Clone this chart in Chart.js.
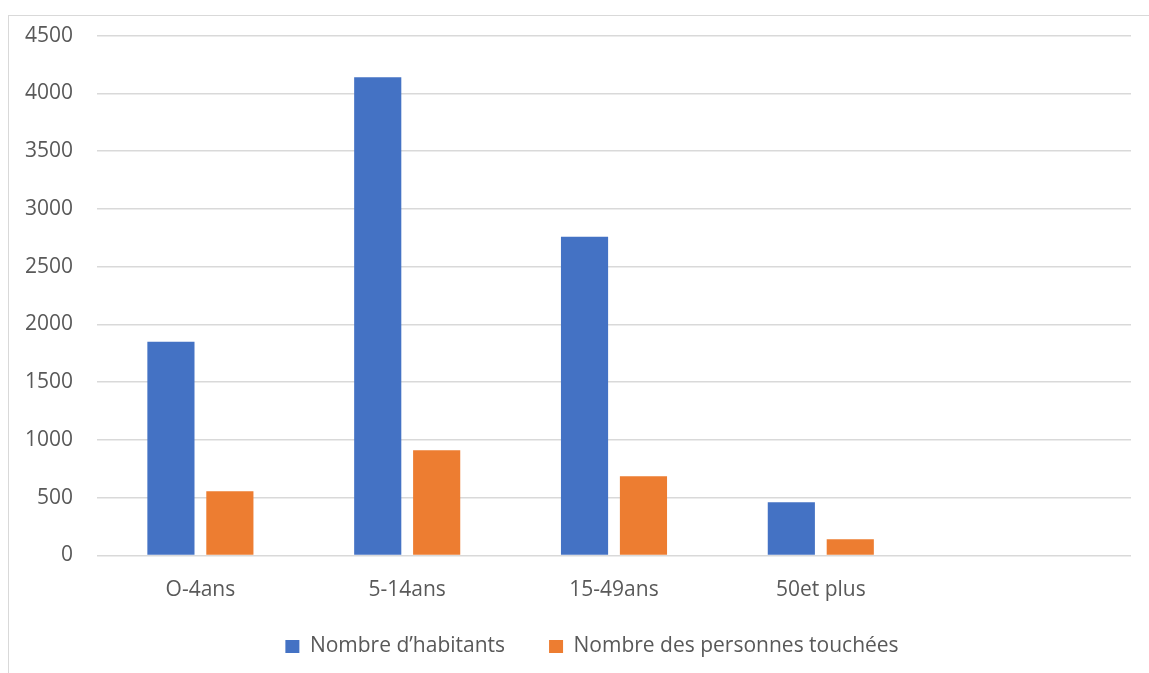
<!DOCTYPE html>
<html lang="fr">
<head>
    <meta charset="UTF-8">
    <title>Répartition par tranche d'âge</title>
    <script src="https://cdn.jsdelivr.net/npm/chart.js@4.4.1/dist/chart.umd.min.js"></script>
    <style>
        html, body { margin: 0; padding: 0; background: #fff; overflow: hidden; }
        .frame {
            position: absolute; left: 8px; top: 15px;
            width: 1140px; height: 658px;
            border-left: 1px solid #d9d9d9; border-top: 1px solid #d9d9d9;
        }
    </style>
</head>
<body>
    <div class="frame">
        <canvas id="myChart" width="1140" height="658"></canvas>
    </div>

    <script>
        // categories (the last slot is empty in the original)
        const ageGroups = ['O-4ans', '5-14ans', '15-49ans', '50et plus', ''];
        const habitants = [1850, 4140, 2760, 460, null];
        const touchees = [557, 910, 685, 140, null];

        const yMin = 0, yMax = 4500, yStep = 500;

        Chart.defaults.font.family = '"Open Sans", sans-serif';
        Chart.defaults.color = '#595959';

        const legendPad = 30;

        // nudge the legend a bit to the right, the original is not centred on the canvas
        const legendShift = {
            id: 'legendShift',
            afterLayout: (chart) => {
                chart.legend.left += 22;
                chart.legend.right += 22;
            }
        };

        var ctx = document.getElementById('myChart').getContext('2d');
        var myChart = new Chart(ctx, {
            type: 'bar',
            data: {
                labels: ageGroups,
                datasets: [{
                    label: 'Nombre d\u2019habitants',
                    data: habitants,
                    backgroundColor: '#4472C4',
                    borderWidth: 0
                }, {
                    label: 'Nombre des personnes touchées',
                    data: touchees,
                    backgroundColor: '#ED7D31',
                    borderWidth: 0
                }]
            },
            plugins: [legendShift],
            options: {
                responsive: false,
                animation: false,
                categoryPercentage: 0.57,
                barPercentage: 0.8,
                layout: { padding: { top: 0, right: 18, left: 0, bottom: 7 } },
                scales: {
                    x: {
                        afterFit: (s) => { s.height = 80.5 - legendPad; },
                        grid: { display: false, drawTicks: false },
                        border: { display: false },
                        ticks: { font: { size: 21 }, padding: 22, color: '#595959' }
                    },
                    y: {
                        min: yMin, max: yMax,
                        afterFit: (s) => { s.width = 88; },
                        grid: { color: '#d9d9d9', lineWidth: 1.5, drawTicks: true, tickLength: 17, tickColor: 'rgba(0,0,0,0)' },
                        border: { display: false },
                        ticks: {
                            stepSize: yStep, font: { size: 21 }, padding: 7, color: '#595959',
                            callback: (v) => String(v)
                        }
                    }
                },
                plugins: {
                    legend: {
                        position: 'bottom',
                        labels: {
                            boxWidth: 14, boxHeight: 13,
                            font: { size: 21 },
                            padding: legendPad,
                            color: '#595959',
                            generateLabels: (chart) => {
                                const items = Chart.defaults.plugins.legend.labels.generateLabels(chart);
                                // extra room after the first entry, like the original spacing
                                items[0].text += '\u2002\u2009';
                                return items;
                            }
                        }
                    },
                    tooltip: { enabled: false }
                }
            }
        });
    </script>
</body>
</html>
